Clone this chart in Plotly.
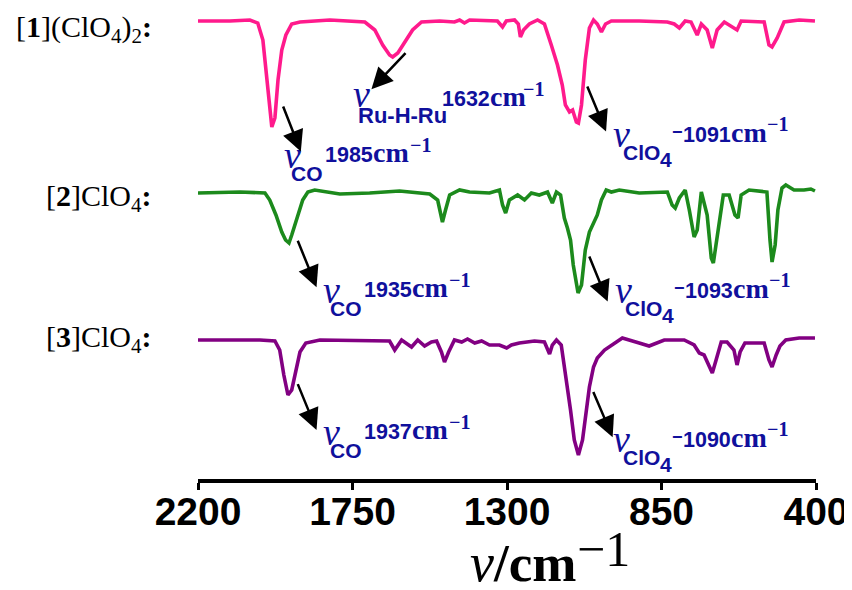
import plotly.graph_objects as go

# ---------------- data ----------------
# wavenumbers (cm-1) and relative transmittance (baseline ~100)
wn_1 = [2200, 2107, 2049, 2026, 2011, 2000, 1991, 1985, 1976, 1967, 1956, 1944, 1927, 1903, 1816,
        1714, 1685, 1662, 1642, 1633, 1618, 1598, 1575, 1549, 1496, 1453, 1438, 1424, 1409, 1328,
        1313, 1302, 1278, 1267, 1261, 1252, 1235, 1211, 1191, 1171, 1153, 1139, 1130, 1118, 1109,
        1098, 1092, 1083, 1072, 1060, 1048, 1037, 1025, 1013, 996, 915, 833, 813, 798, 781, 764,
        746, 734, 717, 702, 688, 667, 630, 618, 551, 537, 528, 513, 493, 449, 403]
t_1 = [100, 100, 100.5, 99, 90.5, 73, 55.5, 47, 51.5, 70.5, 85.5, 93, 98.5, 99.5, 100.5,
       99.5, 95.5, 88, 83, 82, 84, 89.5, 95.5, 99.5, 100, 99.5, 100.5, 99, 100.5, 100,
       97, 100, 100.5, 98.5, 92, 95.5, 98.5, 100.5, 98.5, 88, 78, 68, 58, 54.5, 55.5,
       49.5, 49, 58, 80.5, 96.5, 100.5, 98.5, 94.5, 98.5, 100, 100, 99.5, 98.5, 96.5, 100, 99.5,
       93, 98.5, 95.5, 86.5, 95.5, 99.5, 95.5, 100, 99.5, 88, 87, 91.5, 99.5, 100.5, 100]

wn_2 = [2200, 2078, 2005, 1991, 1973, 1956, 1945, 1935, 1927, 1909, 1895, 1880, 1860, 1787, 1700,
        1613, 1525, 1502, 1493, 1488, 1479, 1467, 1438, 1409, 1351, 1322, 1313, 1304, 1293, 1269,
        1249, 1229, 1206, 1182, 1168, 1156, 1144, 1133, 1124, 1115, 1107, 1093, 1083, 1072, 1060,
        1048, 1037, 1025, 1011, 996, 973, 915, 833, 819, 810, 798, 781, 769, 755, 746, 734, 717,
        705, 699, 688, 670, 653, 636, 627, 618, 595, 543, 534, 528, 519, 511, 499, 488, 464, 435,
        415, 403]
t_2 = [100, 100.5, 100, 96.5, 89, 80.5, 76.5, 75, 79, 89, 96.5, 100.5, 101.5, 99.5, 100,
       101, 99.5, 96.5, 89, 85.5, 91.5, 99, 101.5, 100.5, 100, 101.5, 94, 90, 96.5, 99,
       96.5, 100, 99, 100.5, 95, 100.5, 99, 87.5, 82.5, 76.5, 64, 50, 54, 71.5, 80.5,
       85.5, 89, 96.5, 101.5, 100.5, 101.5, 100, 100.5, 94, 92.5, 97.5, 101.5, 91.5, 78, 81.5, 100.5, 89,
       67.5, 65, 79, 99, 99, 89, 87.5, 99, 101.5, 100.5, 76.5, 65.5, 74, 91.5, 102.5, 104, 101.5, 101.5,
       102, 101]

wn_3 = [2200, 2020, 1976, 1962, 1950, 1938, 1927, 1915, 1903, 1886, 1845, 1642, 1627, 1607, 1589,
        1578, 1560, 1540, 1520, 1505, 1491, 1482, 1470, 1453, 1432, 1415, 1394, 1374, 1351, 1322,
        1301, 1287, 1264, 1220, 1191, 1182, 1176, 1168, 1156, 1142, 1133, 1124, 1115, 1104, 1092,
        1080, 1069, 1060, 1048, 1037, 1016, 996, 964, 915, 886, 842, 784, 755, 740, 726, 708, 702,
        691, 676, 659, 639, 630, 621, 607, 551, 537, 528, 516, 505, 488, 449, 403]
t_3 = [100, 100, 99.5, 95, 82.5, 72.5, 75, 85, 94, 98.5, 100, 99.5, 95, 100, 97.5,
       96.5, 100, 97, 99, 99.5, 94, 89, 94, 100, 99, 100.5, 98.5, 99.5, 97.5, 97.5,
       96, 97.5, 98.5, 99.5, 99, 95, 93, 97.5, 100, 97.5, 87.5, 77.5, 65, 50, 42.5,
       50, 65, 76.5, 86.5, 91, 95, 97.5, 101, 98.5, 97, 100, 100, 97.5, 93.5, 92.5, 85, 83.5,
       90, 99, 99, 95, 87.5, 94, 98.5, 98.5, 90, 86.5, 92.5, 97, 100, 101, 101]

offsets = [131, 45, -28.5]
colors = ["#FF1A8C", "#1C8A1C", "#820082"]
sample_labels = ["[<b>1</b>](ClO<sub>4</sub>)<sub>2</sub><b>:</b>",
                 "[<b>2</b>]ClO<sub>4</sub><b>:</b>",
                 "[<b>3</b>]ClO<sub>4</sub><b>:</b>"]
label_shift = [-8, -5, 1]

tick_vals = [2200, 1750, 1300, 850, 400]
tick_text = ["2200", "1750", "1300", "850", "400"]

# peak labels: position of the "nu" (left edge wavenumber, baseline y), kind and band
peak_labels = [
    dict(x=1952.8, y=157.5, kind="CO", num="1985"),
    dict(x=1752.2, y=188.0, kind="Ru", num="1632"),
    dict(x=993.2, y=168.0, kind="ClO4", num="1091"),
    dict(x=1839.4, y=90.0, kind="CO", num="1935"),
    dict(x=987.4, y=90.0, kind="ClO4", num="1093"),
    dict(x=1839.4, y=19.0, kind="CO", num="1937"),
    dict(x=993.2, y=15.5, kind="ClO4", num="1090"),
]

# arrows: tail (x, y) -> head (x, y)
arrows = [
    (1953.7, 189.0, 1900.5, 165.7),
    (1591.4, 215.7, 1694.9, 196.9),
    (1067.9, 199.0, 1011.5, 175.7),
    (1911.2, 121.9, 1854.8, 97.9),
    (1062.1, 114.0, 1006.8, 90.7),
    (1911.2, 50.2, 1854.8, 26.5),
    (1050.5, 46.2, 992.3, 22.9),
]

BLUE = "#10109C"
SERIF = "Liberation Serif"
SANS = "Liberation Sans"
K = {SERIF: 0.3375, SANS: 0.3465}   # box-centre above baseline, in em

# text pieces: (text, family, size, dx from nu left, baseline offset below nu baseline)
pieces = {
    "CO": [("<b>CO</b>", SANS, 21, 7, 13), ("NUM", SANS, 21.5, 41, -6),
           ("<b>cm</b>", SERIF, 28, 89, -6), ("<b>−1</b>", SERIF, 20, 126, -16)],
    "Ru": [("<b>Ru-H-Ru</b>", SANS, 22, 5, 16), ("NUM", SANS, 21.5, 89, -1),
           ("<b>cm</b>", SERIF, 28, 137, -1), ("<b>−1</b>", SERIF, 20, 170, -11)],
    "ClO4": [("<b>ClO</b>", SANS, 21, 10, 13), ("<b>4</b>", SANS, 21, 47, 20),
             ("<b>−</b>", SANS, 18, 59, -15), ("NUM", SANS, 21.5, 70, -5),
             ("<b>cm</b>", SERIF, 28, 118, -5), ("<b>−1</b>", SERIF, 20, 154, -16)],
}

fig = go.Figure()
for wn, t, off, col in zip([wn_1, wn_2, wn_3], [t_1, t_2, t_3], offsets, colors):
    fig.add_trace(go.Scatter(x=wn, y=[v + off for v in t], mode="lines",
                             line=dict(color=col, width=3.6), hoverinfo="skip",
                             showlegend=False))

ann = []
for lab, off, ys in zip(sample_labels, offsets, label_shift):
    ann.append(dict(xref="paper", yref="y", x=-0.071, y=off + 100, yshift=ys,
                    text=lab, showarrow=False, xanchor="right", yanchor="middle",
                    font=dict(family=SERIF, size=30, color="black")))

for p in peak_labels:
    base = dict(xref="x", yref="y", x=p["x"], y=p["y"], showarrow=False,
                xanchor="left", yanchor="middle", borderpad=0)
    ann.append(dict(base, text="<i>ν</i>", yshift=K[SERIF] * 38,
                    font=dict(family=SERIF, size=38, color=BLUE)))
    for txt, fam, fs, dx, db in pieces[p["kind"]]:
        if txt == "NUM":
            txt = "<b>" + p["num"] + "</b>"
        ys = K[fam] * fs - db
        if txt == "<b>−</b>":
            ys = -db
        ann.append(dict(base, text=txt, xshift=dx, yshift=ys,
                        font=dict(family=fam, size=fs, color=BLUE)))

for tx, ty, hx, hy in arrows:
    ann.append(dict(xref="x", yref="y", axref="x", ayref="y", x=hx, y=hy, ax=tx, ay=ty,
                    text="", showarrow=True, arrowhead=2, arrowsize=1.7, arrowwidth=2.5,
                    arrowcolor="black", standoff=0, startstandoff=0))

# axis title "nu/cm^-1"
ann.append(dict(xref="paper", yref="paper", x=0.438, y=-0.178, showarrow=False,
                xanchor="left", yanchor="middle", borderpad=0,
                text='<span style="font-size:54px"><i>ν</i></span><b>/cm</b>',
                font=dict(family=SERIF, size=53, color="black")))
ann.append(dict(xref="paper", yref="paper", x=0.611, y=-0.149, showarrow=False,
                xanchor="left", yanchor="middle", text="−1", borderpad=0,
                font=dict(family=SERIF, size=50, color="black")))

# the page has an 8px body margin: figure is 844x582 so that it fits the 852x590 window
fig.update_layout(
    width=844, height=582,
    margin=dict(l=190, r=36, t=0, b=111),
    paper_bgcolor="white", plot_bgcolor="white",
    annotations=ann,
    xaxis=dict(range=[2200, 400], tickmode="array", tickvals=tick_vals, ticktext=tick_text,
               showgrid=False, zeroline=False, showline=True, linecolor="black", linewidth=4,
               ticks="outside", ticklen=7, tickwidth=3, tickcolor="black",
               ticklabelstandoff=-12,
               tickfont=dict(family=SANS, size=39, color="black", weight="bold")),
    yaxis=dict(range=[2, 237.5], visible=False, showgrid=False, zeroline=False),
)

fig.write_html("out.html")
